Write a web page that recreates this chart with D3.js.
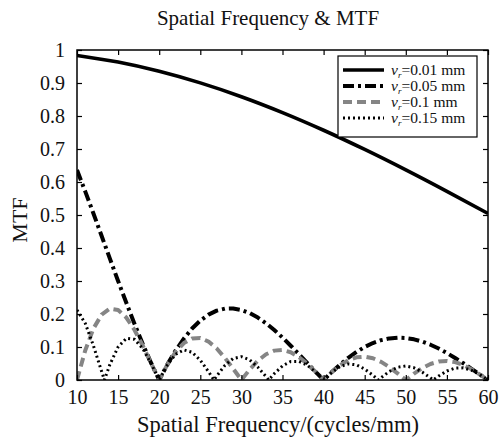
<!DOCTYPE html>
<html><head><meta charset="utf-8">
<script src="https://cdn.jsdelivr.net/npm/d3@7"></script>
<style>body{margin:0;background:#fff}svg{display:block}text{font-family:"Liberation Serif","Times New Roman",serif;fill:#111}</style>
</head><body><svg id="c" width="500" height="437"></svg>
<script>
const xTicks = [10,15,20,25,30,35,40,45,50,55,60];
const yTicks = [0,0.1,0.2,0.3,0.4,0.5,0.6,0.7,0.8,0.9,1];
const yTickLabels = ["0","0.1","0.2","0.3","0.4","0.5","0.6","0.7","0.8","0.9","1"];
const legendLabels = ["0.01","0.05","0.1","0.15"];

const f001 = [10,15,20,25,30,35,40,45,50,55,60];
const m001 = [0.9836,0.9634,0.9355,0.9003,0.8584,0.8103,0.7568,0.6986,0.6366,0.5716,0.5046];

const f005 = [10,11,12,13,14,15,16,17,18,19,20,21,22,23,24,25,26,27,28,29,30,31,32,33,34,35,36,37,38,39,40,41,42,43,44,45,46,47,48,49,50,51,52,53,54,55,56,57,58,59,60];
const m005 = [0.6366,0.5716,0.5046,0.4363,0.3679,0.3001,0.2339,0.1700,0.1093,0.0524,0,
  0.0474,0.0894,0.1257,0.1559,0.1801,0.1981,0.2101,0.2162,0.2168,0.2122,0.2028,0.1892,0.1719,0.1515,0.1286,0.1039,0.0781,0.0518,0.0255,0,
  0.0243,0.0468,0.0672,0.0850,0.1000,0.1120,0.1207,0.1261,0.1283,0.1273,0.1233,0.1164,0.1070,0.0954,0.0818,0.0668,0.0507,0.0339,0.0169,0];

const f01 = f005;
const m01 = [0,0.0894,0.1559,0.1981,0.2162,0.2122,0.1892,0.1515,0.1039,0.0518,0,
  0.0468,0.0850,0.1120,0.1261,0.1273,0.1164,0.0954,0.0668,0.0339,0,
  0.0317,0.0585,0.0780,0.0890,0.0909,0.0841,0.0696,0.0492,0.0252,0,
  0.0240,0.0445,0.0599,0.0688,0.0707,0.0658,0.0548,0.0390,0.0201,0,
  0.0193,0.0360,0.0486,0.0561,0.0579,0.0541,0.0452,0.0323,0.0167,0];

const f015 = [10,11,12,13,13.333,14,15,16,17,18,19,20,21,22,23,24,25,26,26.667,27,28,29,30,31,32,33,33.333,34,35,36,37,38,39,40,41,42,43,44,45,46,46.667,47,48,49,50,51,52,53,53.333,54,55,56,57,58,59,60];
const m015 = [0.2122,0.1719,0.1039,0.0255,0,0.0468,0.1000,0.1261,0.1233,0.0954,0.0507,0,
  0.0459,0.0780,0.0911,0.0841,0.0600,0.0252,0,0.0123,0.0445,0.0652,0.0707,0.0610,0.0390,0.0101,0,
  0.0193,0.0429,0.0561,0.0566,0.0452,0.0247,0,0.0235,0.0409,0.0487,0.0459,0.0333,0.0143,0,
  0.0071,0.0260,0.0386,0.0424,0.0371,0.0240,0.0063,0,0.0121,0.0273,0.0360,0.0368,0.0296,0.0163,0];

const series = [
  {f:f001, m:m001, color:"#000", w:3.6, dash:null, curve:d3.curveMonotoneX},
  {f:f005, m:m005, color:"#000", w:4, dash:"11,4,3,4", curve:d3.curveLinear},
  {f:f01, m:m01, color:"#858585", w:4, dash:"9,5", curve:d3.curveLinear},
  {f:f015, m:m015, color:"#000", w:3, dash:"2,3", curve:d3.curveLinear}
];

const svg = d3.select("#c");
const L=77, R=488, T=50, B=380;
const x = d3.scaleLinear().domain([10,60]).range([L,R]);
const y = d3.scaleLinear().domain([0,1]).range([B,T]);

svg.append("clipPath").attr("id","cp").append("rect").attr("x",L).attr("y",T-3).attr("width",R-L).attr("height",B-T+3);

series.forEach(s=>{
  const pts = s.f.map((v,i)=>[v,s.m[i]]);
  svg.append("path").attr("clip-path","url(#cp)")
    .attr("d", d3.line().x(d=>x(d[0])).y(d=>y(d[1])).curve(s.curve)(pts))
    .attr("fill","none").attr("stroke",s.color).attr("stroke-width",s.w)
    .attr("stroke-dasharray",s.dash).attr("stroke-linejoin","round");
});

const fs = 20;
const ax = (g, axis) => { g.call(axis); g.select(".domain").remove(); g.selectAll("line").attr("stroke","#000").attr("stroke-width",1.2); };
ax(svg.append("g").attr("transform",`translate(0,${B})`), d3.axisBottom(x).tickValues(xTicks).tickSizeInner(-5).tickSizeOuter(0).tickPadding(10));
ax(svg.append("g").attr("transform",`translate(0,${T})`), d3.axisTop(x).tickValues(xTicks).tickSizeInner(-5).tickSizeOuter(0).tickFormat(""));
ax(svg.append("g").attr("transform",`translate(${L},0)`), d3.axisLeft(y).tickValues(yTicks).tickSizeInner(-5).tickSizeOuter(0).tickPadding(12).tickFormat((d,i)=>yTickLabels[i]));
ax(svg.append("g").attr("transform",`translate(${R},0)`), d3.axisRight(y).tickValues(yTicks).tickSizeInner(-5).tickSizeOuter(0).tickFormat(""));
svg.selectAll(".tick text").attr("font-family","Liberation Serif, serif").attr("font-size",fs).attr("fill","#111");

svg.append("rect").attr("x",L).attr("y",T).attr("width",R-L).attr("height",B-T).attr("fill","none").attr("stroke","#000").attr("stroke-width",1.5);

svg.append("text").attr("x",268).attr("y",25).attr("text-anchor","middle").attr("font-size",21).text("Spatial Frequency & MTF");
svg.append("text").attr("x",278).attr("y",432).attr("text-anchor","middle").attr("font-size",22.5).text("Spatial Frequency/(cycles/mm)");
svg.append("text").attr("transform","translate(27,220) rotate(-90)").attr("text-anchor","middle").attr("font-size",22).text("MTF");

const lg = svg.append("g");
lg.append("rect").attr("x",338).attr("y",56).attr("width",139).attr("height",81).attr("fill","#fff").attr("stroke","#000").attr("stroke-width",1.2);
const ly = [70,86,102,118];
series.forEach((s,i)=>{
  lg.append("line").attr("x1",343).attr("x2",384).attr("y1",ly[i]).attr("y2",ly[i])
    .attr("stroke",s.color).attr("stroke-width",s.w).attr("stroke-dasharray",s.dash);
  const t = lg.append("text").attr("x",391).attr("y",ly[i]+5).attr("font-size",15.5);
  t.append("tspan").attr("font-style","italic").text("v");
  t.append("tspan").attr("font-style","italic").attr("font-size",9).attr("dy",3).text("r");
  t.append("tspan").attr("dy",-3).text("=" + legendLabels[i] + " mm");
});
</script></body></html>
